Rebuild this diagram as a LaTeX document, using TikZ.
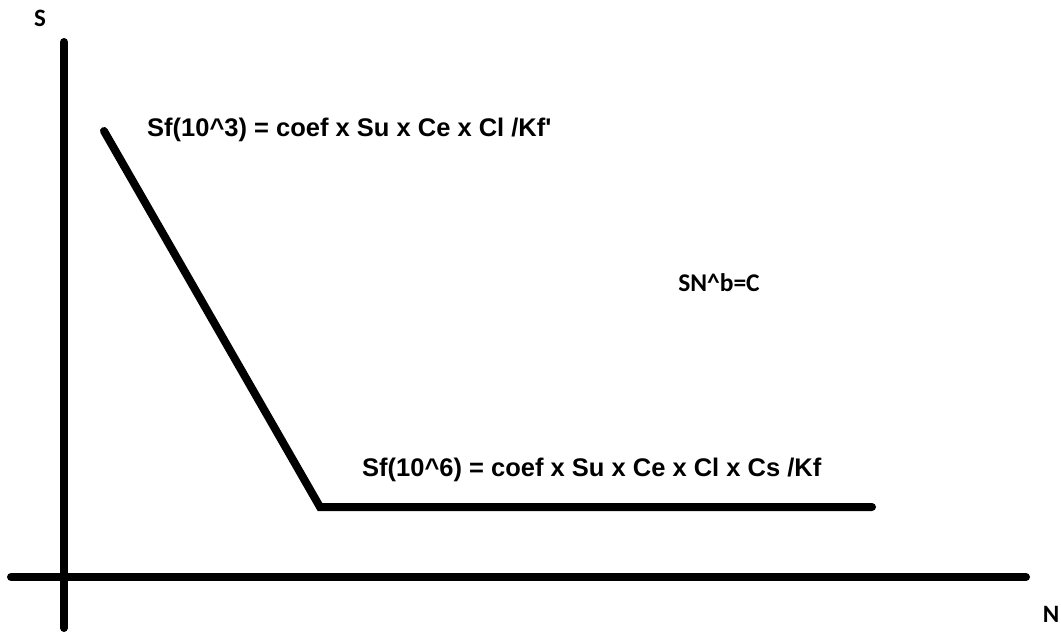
\documentclass[tikz,border=0pt]{standalone}
\usepackage{fontspec}
\setmainfont{Liberation Sans}
\newfontfamily\calfont{Carlito}
\begin{document}
\begin{tikzpicture}[x=1pt,y=-1pt,
  axis/.style={line width=8pt,line cap=round},
  curve/.style={line width=8pt,line cap=round,line join=miter},
  lbl/.style={font=\fontsize{25.5}{30}\selectfont\bfseries,inner sep=0pt},
  callbl/.style={font=\calfont\fontsize{25.5}{30}\selectfont\bfseries,inner sep=0pt},
  axlbl/.style={font=\calfont\fontsize{25}{30}\selectfont\bfseries,inner sep=0pt}]
\useasboundingbox[fill=white] (0,0) rectangle (1061,634);
\coordinate (ytop) at (64,42);
\coordinate (ybot) at (64,628);
\coordinate (xl) at (11,577);
\coordinate (xr) at (1026,577);
\draw[axis] (ytop) -- (ybot);
\draw[axis] (xl) -- (xr);
\coordinate (p1) at (104,131);
\coordinate (p2) at (320,507);
\coordinate (p3) at (872,507);
\draw[curve] (p1) -- (p2) -- (p3);
\node[axlbl] (S) at (40,18) {S};
\node[axlbl] (N) at (1051,614) {N};
\node[lbl,anchor=west] (f3) at (147,130) {Sf(10\^{}3) = coef x Su x Ce x Cl /Kf\textquotesingle};
\node[lbl,anchor=west] (f6) at (362,470) {Sf(10\^{}6) = coef x Su x Ce x Cl x Cs /Kf};
\node[callbl] (sn) at (719,283) {SN\^{}b=C};
\end{tikzpicture}
\end{document}
